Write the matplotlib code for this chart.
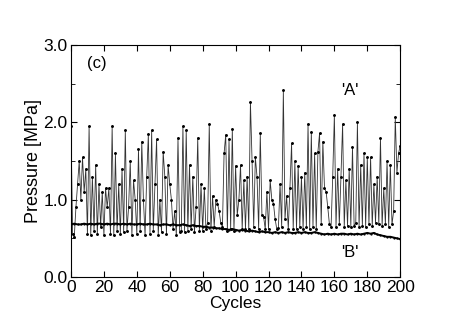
import numpy as np
import matplotlib.pyplot as plt
from matplotlib.ticker import MultipleLocator

# series 'A' : one point per cycle (0..200)
a_vals = [
    1.95, 0.55, 0.52, 0.90, 1.20, 1.50, 1.00, 1.55, 1.10, 1.40,
    0.55, 1.95, 0.54, 1.30, 0.60, 1.45, 0.55, 1.20, 0.65, 1.10,
    0.54, 1.15, 0.90, 1.15, 0.55, 1.95, 0.54, 1.60, 0.60, 1.20,
    0.55, 1.40, 0.58, 1.90, 0.60, 0.90, 1.50, 0.54, 1.25, 1.00,
    0.55, 1.65, 0.60, 1.75, 1.00, 0.54, 1.30, 1.85, 0.55, 1.90,
    0.60, 1.20, 1.78, 0.54, 1.00, 0.58, 1.62, 1.30, 0.55, 1.45,
    1.20, 1.00, 0.62, 0.85, 0.54, 1.80, 0.58, 0.60, 1.95, 0.58,
    1.90, 0.60, 1.45, 0.62, 1.30, 0.58, 0.90, 1.80, 0.60, 1.20,
    0.60, 1.15, 0.62, 0.70, 1.98, 0.60, 1.05, 0.65, 1.00, 0.95,
    0.85, 0.70, 0.65, 1.60, 1.84, 0.60, 1.78, 0.62, 1.92, 0.60,
    1.44, 0.80, 1.00, 1.45, 0.62, 1.25, 0.62, 1.30, 0.62, 2.27,
    1.50, 0.65, 1.55, 1.30, 0.62, 1.86, 0.80, 0.78, 0.62, 1.10,
    0.62, 1.25, 1.00, 0.95, 0.75, 0.62, 0.64, 1.20, 0.65, 2.42,
    0.75, 1.05, 0.62, 1.15, 1.73, 0.62, 1.50, 0.62, 1.44, 0.65,
    1.30, 0.62, 1.35, 0.65, 1.98, 0.62, 1.88, 0.65, 1.60, 0.62,
    1.62, 1.86, 0.68, 1.75, 1.15, 1.10, 0.90, 0.68, 0.65, 1.30,
    2.10, 0.65, 1.40, 0.68, 1.30, 1.98, 0.65, 1.25, 0.66, 1.40,
    0.65, 1.68, 0.66, 0.70, 2.00, 0.65, 1.45, 0.66, 1.60, 0.65,
    1.55, 0.68, 1.55, 0.66, 1.20, 0.70, 1.30, 0.68, 1.80, 0.66,
    1.15, 0.68, 1.50, 0.65, 1.45, 0.68, 0.85, 2.07, 1.35, 1.60,
    1.70,
]
a_cycles = np.arange(len(a_vals))

# series 'B' : every second cycle
b_vals = [
    0.68, 0.69, 0.68, 0.68, 0.69, 0.68, 0.69, 0.68, 0.69, 0.69, 0.68,
    0.69, 0.68, 0.69, 0.69, 0.68, 0.69, 0.68, 0.69, 0.68, 0.68,
    0.69, 0.68, 0.68, 0.69, 0.68, 0.68, 0.67, 0.68, 0.68, 0.67,
    0.68, 0.67, 0.67, 0.68, 0.67, 0.66, 0.67, 0.66, 0.66, 0.65,
    0.65, 0.64, 0.64, 0.63, 0.63, 0.62, 0.62, 0.61, 0.62, 0.61,
    0.60, 0.61, 0.60, 0.59, 0.60, 0.59, 0.58, 0.59, 0.58, 0.58,
    0.57, 0.58, 0.57, 0.58, 0.57, 0.58, 0.57, 0.57, 0.58, 0.57,
    0.58, 0.57, 0.57, 0.58, 0.57, 0.56, 0.55, 0.56, 0.55, 0.56,
    0.55, 0.56, 0.56, 0.55, 0.56, 0.55, 0.56, 0.55, 0.56, 0.57,
    0.56, 0.57, 0.55, 0.54, 0.53, 0.52, 0.52, 0.51, 0.50, 0.49,
]
b_cycles = np.arange(len(b_vals)) * 2

plt.rcParams['font.family'] = ['Liberation Sans', 'DejaVu Sans']

fig = plt.figure(figsize=(4.67, 3.27), dpi=100)
ax = fig.add_axes([0.152, 0.153, 0.705, 0.709])

ax.plot(a_cycles, a_vals, color='#333333', lw=0.6, marker='.', ms=2.2, mfc='black', mec='black')
ax.plot(b_cycles, b_vals, color='black', lw=1.4, marker='.', ms=1.2)

ax.set_xlim(0, 200)
ax.set_ylim(0, 3.0)
ax.xaxis.set_major_locator(MultipleLocator(20))
ax.yaxis.set_major_locator(MultipleLocator(1.0))
ax.yaxis.set_minor_locator(MultipleLocator(0.5))
ax.yaxis.set_major_formatter(plt.FormatStrFormatter('%.1f'))
ax.tick_params(which='both', direction='in', top=True, right=True, labelsize=12.5)
ax.tick_params(axis='x', pad=2.5)
ax.tick_params(axis='y', pad=2.5)
ax.tick_params(which='major', length=4)
ax.tick_params(which='minor', length=3)

ax.set_xlabel('Cycles', fontsize=12.5, labelpad=0.5)
ax.set_ylabel('Pressure [MPa]', fontsize=13, labelpad=1)

ax.text(10, 2.7, '(c)', fontsize=12)
ax.text(164, 2.36, "'A'", fontsize=12)
ax.text(164, 0.26, "'B'", fontsize=12)

fig.savefig('out.png', dpi=100)
